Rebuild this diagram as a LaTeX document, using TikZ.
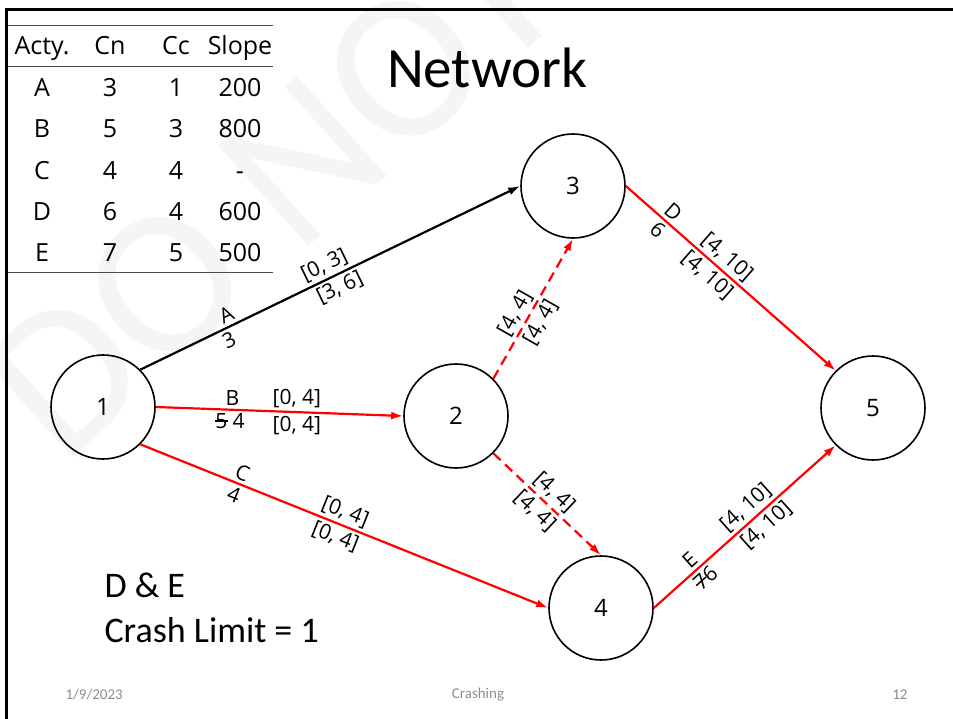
\documentclass[tikz,border=0pt]{standalone}
\usepackage{fontspec}
\setmainfont{Carlito}
\newfontfamily\labelfont{Open Sans}
\usetikzlibrary{arrows.meta}
\newcommand{\struck}[1]{\makebox[0pt][l]{\rule[.33em]{.62em}{.07em}}#1}

\begin{document}
\begin{tikzpicture}[
        x=1pt, y=-1pt,
        event/.style={draw, circle, minimum size=104pt, inner sep=0pt, line width=1.6pt, font=\labelfont\fontsize{24}{28}\selectfont},
        act/.style={line width=2.2pt, -{Latex[length=12pt,width=8pt]}},
        crit/.style={act, red},
        dummy/.style={crit, dash pattern=on 10pt off 6pt},
        lbl/.style={font=\labelfont\fontsize{21}{25}\selectfont, inner sep=3pt, text=black},
        cell/.style={font=\labelfont\fontsize{25}{30}\selectfont, inner sep=0pt, anchor=base},
        rule/.style={draw=black!70, line width=0.9pt},
        footer/.style={font=\fontsize{15}{18}\selectfont, text=black!45},
        watermark/.style={font=\fontsize{210}{250}\selectfont, text=black!4, rotate=42},
    ]
    \useasboundingbox (0,0) rectangle (953,719);
    \node[watermark, anchor=base west] (wm) at (60,470) {DO NOT COPY};

    \draw[line width=3pt] (6.5,719) -- (6.5,10) -- (953,10);

    \draw[rule] (8,25) -- (273,25);
    \draw[rule] (8,66) -- (273,66);
    \draw[rule] (8,272) -- (273,272);
    \foreach \a/\n/\c/\s [count=\i] in {Acty./Cn/Cc/Slope, A/3/1/200, B/5/3/800, C/4/4/-, D/6/4/600, E/7/5/500}{
        \node[cell] (act\i) at (42,{13.6+41.4*\i}) {\a};
        \node[cell] (cn\i) at (110,{13.6+41.4*\i}) {\n};
        \node[cell] (cc\i) at (176,{13.6+41.4*\i}) {\c};
        \node[cell] (slope\i) at (240,{13.6+41.4*\i}) {\s};
    }

    \node[font=\fontsize{57}{64}\selectfont] (title) at (487,68) {Network};

    \node[event] (1) at (103,407) {1};
    \node[event] (2) at (456,416) {2};
    \node[event] (3) at (573,186) {3};
    \node[event] (4) at (601,608) {4};
    \node[event] (5) at (873,408) {5};

    \draw[act] (1.north east) -- (3.west)
        node[lbl, sloped, above, pos=.24] (nA) {A}
        node[lbl, sloped, below, pos=.22] (dA) {3}
        node[lbl, sloped, above, pos=.50] (esA) {[0, 3]}
        node[lbl, sloped, below, pos=.51] (lsA) {[3, 6]};
    \draw[crit] (1.east) -- (2.west)
        node[lbl, above, pos=.31] (nB) {B}
        node[lbl, below, pos=.30] (dB) {\struck{5} 4}
        node[lbl, above, pos=.57] (esB) {[0, 4]}
        node[lbl, below, pos=.57] (lsB) {[0, 4]};
    \draw[crit] (1.south east) -- (4.west)
        node[lbl, sloped, above, pos=.24] (nC) {C}
        node[lbl, sloped, below, pos=.24] (dC) {4}
        node[lbl, sloped, above, pos=.49] (esC) {[0, 4]}
        node[lbl, sloped, below, pos=.49] (lsC) {[0, 4]};
    \draw[dummy] (2.north east) -- (3.south)
        node[lbl, sloped, above, pos=.42] (es23) {[4, 4]}
        node[lbl, sloped, below, pos=.45] (ls23) {[4, 4]};
    \draw[dummy] (2.south east) -- (4.north)
        node[lbl, sloped, above, pos=.48] (es24) {[4, 4]}
        node[lbl, sloped, below, pos=.47] (ls24) {[4, 4]};
    \draw[crit] (3.east) -- (5.north west)
        node[lbl, sloped, above, pos=.19] (nD) {D}
        node[lbl, sloped, below, pos=.19] (dD) {6}
        node[lbl, sloped, above, pos=.44] (esD) {[4, 10]}
        node[lbl, sloped, below, pos=.43] (lsD) {[4, 10]};
    \draw[crit] (4.east) -- (5.south west)
        node[lbl, sloped, above, pos=.24] (nE) {E}
        node[lbl, sloped, below, pos=.24] (dE) {\struck{7}6}
        node[lbl, sloped, above, pos=.555] (esE) {[4, 10]}
        node[lbl, sloped, below, pos=.57] (lsE) {[4, 10]};

    \node[font=\fontsize{36}{40}\selectfont, anchor=west] (pair) at (101,585) {D \& E};
    \node[font=\fontsize{36}{40}\selectfont, anchor=west] (limit) at (101,630) {Crash Limit = 1};

    \node[footer, anchor=west] (date) at (62,695) {1/9/2023};
    \node[footer] (topic) at (478,695) {Crashing};
    \node[footer, anchor=east] (page) at (911,695) {12};
\end{tikzpicture}
\end{document}
